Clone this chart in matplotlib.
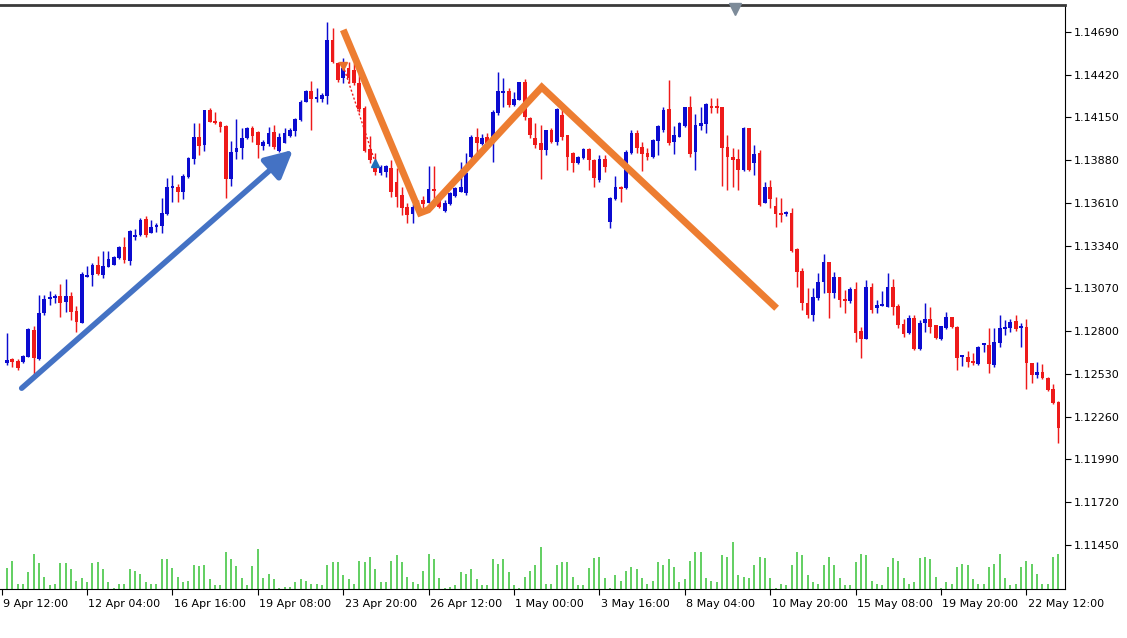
import numpy as np
import matplotlib
matplotlib.use("Agg")
import matplotlib.pyplot as plt
from matplotlib.ticker import FormatStrFormatter
from matplotlib.transforms import ScaledTranslation

# H4 bars, EURUSD-style prices
opens = [
    1.12601, 1.12623, 1.12614, 1.12608, 1.12639, 1.12808, 1.12623, 1.12917, 1.13004, 1.13008,
    1.13023, 1.12985, 1.13023, 1.12928, 1.12854, 1.13144, 1.13155, 1.13218, 1.13155, 1.13208,
    1.13218, 1.13261, 1.13334, 1.13245, 1.13393, 1.13408, 1.13507, 1.13422, 1.13460, 1.13465,
    1.13540, 1.13703, 1.13713, 1.13677, 1.13772, 1.13888, 1.14029, 1.13976, 1.14197, 1.14128,
    1.14123, 1.14098, 1.13761, 1.13930, 1.13955, 1.14019, 1.14082, 1.14056, 1.13972, 1.13981,
    1.14056, 1.13938, 1.13991, 1.14035, 1.14065, 1.14134, 1.14246, 1.14317, 1.14267, 1.14267,
    1.14288, 1.14639, 1.14492, 1.14401, 1.14461, 1.14450, 1.14370, 1.14210, 1.13949, 1.13835,
    1.13797, 1.13808, 1.13829, 1.13744, 1.13660, 1.13587, 1.13540, 1.13591, 1.13629, 1.13612,
    1.13696, 1.13629, 1.13561, 1.13604, 1.13654, 1.13681, 1.13675, 1.13902, 1.14025, 1.13983,
    1.14025, 1.13987, 1.14176, 1.14307, 1.14319, 1.14229, 1.14261, 1.14376, 1.14145, 1.14019,
    1.13987, 1.13945, 1.14071, 1.13997, 1.14166, 1.14039, 1.13924, 1.13861, 1.13892, 1.13949,
    1.13881, 1.13755, 1.13886, 1.13492, 1.13633, 1.13713, 1.13703, 1.13924, 1.14054, 1.13965,
    1.13928, 1.13899, 1.14003, 1.14071, 1.14202, 1.13997, 1.14029, 1.14096, 1.14214, 1.13934,
    1.14096, 1.14109, 1.14223, 1.14218, 1.14214, 1.13965, 1.13902, 1.13886, 1.13818, 1.14082,
    1.13861, 1.13924, 1.13608, 1.13709, 1.13591, 1.13545, 1.13540, 1.13545, 1.13317, 1.13182,
    1.12980, 1.12903, 1.13008, 1.13113, 1.13239, 1.13040, 1.13144, 1.13002, 1.12993, 1.13065,
    1.12803, 1.12749, 1.13081, 1.12945, 1.12959, 1.12955, 1.13081, 1.12959, 1.12846, 1.12787,
    1.12882, 1.12686, 1.12854, 1.12875, 1.12839, 1.12749, 1.12819, 1.12888, 1.12829, 1.12635,
    1.12635, 1.12614, 1.12593, 1.12713, 1.12713, 1.12587, 1.12724, 1.12816, 1.12819, 1.12867,
    1.12819, 1.12829, 1.12601, 1.12524, 1.12544, 1.12503, 1.12433, 1.12355,
]
highs = [
    1.12787, 1.12629, 1.12623, 1.12650, 1.12819, 1.12835, 1.13029, 1.13029, 1.13055, 1.13033,
    1.13096, 1.13130, 1.13050, 1.12959, 1.13176, 1.13212, 1.13233, 1.13275, 1.13309, 1.13309,
    1.13275, 1.13338, 1.13393, 1.13439, 1.13444, 1.13513, 1.13528, 1.13503, 1.13482, 1.13640,
    1.13768, 1.13787, 1.13728, 1.13791, 1.13902, 1.14113, 1.14113, 1.14197, 1.14212, 1.14187,
    1.14128, 1.14103, 1.14001, 1.14140, 1.14082, 1.14092, 1.14096, 1.14065, 1.14008, 1.14092,
    1.14103, 1.14050, 1.14082, 1.14082, 1.14145, 1.14260, 1.14324, 1.14380, 1.14338, 1.14303,
    1.14755, 1.14713, 1.14502, 1.14524, 1.14502, 1.14492, 1.14471, 1.14223, 1.14033, 1.13926,
    1.13850, 1.13850, 1.13881, 1.13829, 1.13713, 1.13608, 1.13604, 1.13629, 1.13654, 1.13844,
    1.13844, 1.13660, 1.13629, 1.13681, 1.13713, 1.13871, 1.13924, 1.14039, 1.14082, 1.14046,
    1.14050, 1.14197, 1.14439, 1.14398, 1.14334, 1.14313, 1.14376, 1.14391, 1.14155, 1.14113,
    1.14103, 1.14071, 1.14084, 1.14208, 1.14210, 1.14039, 1.13934, 1.13909, 1.13955, 1.13959,
    1.13886, 1.13913, 1.13913, 1.13650, 1.13780, 1.13717, 1.13945, 1.14071, 1.14071, 1.13997,
    1.13955, 1.14012, 1.14103, 1.14218, 1.14387, 1.14096, 1.14123, 1.14218, 1.14286, 1.14172,
    1.14218, 1.14240, 1.14271, 1.14271, 1.14214, 1.14039, 1.13955, 1.13949, 1.14088, 1.14082,
    1.13976, 1.13945, 1.13745, 1.13755, 1.13650, 1.13640, 1.13559, 1.13576, 1.13326, 1.13199,
    1.13071, 1.13071, 1.13166, 1.13288, 1.13239, 1.13176, 1.13144, 1.13060, 1.13081, 1.13113,
    1.12829, 1.13124, 1.13107, 1.12997, 1.13056, 1.13166, 1.13128, 1.12972, 1.12875, 1.12903,
    1.12903, 1.12871, 1.12980, 1.12955, 1.12839, 1.12833, 1.12923, 1.12888, 1.12833, 1.12650,
    1.12677, 1.12661, 1.12707, 1.12728, 1.12819, 1.12819, 1.12903, 1.12871, 1.12875, 1.12903,
    1.12854, 1.12875, 1.12601, 1.12608, 1.12593, 1.12509, 1.12467, 1.12361,
]
lows = [
    1.12587, 1.12576, 1.12555, 1.12601, 1.12635, 1.12513, 1.12618, 1.12903, 1.12966, 1.12980,
    1.12892, 1.12923, 1.12871, 1.12797, 1.12850, 1.13141, 1.13086, 1.13155, 1.13134, 1.13204,
    1.13218, 1.13254, 1.13233, 1.13218, 1.13376, 1.13401, 1.13397, 1.13419, 1.13425, 1.13422,
    1.13534, 1.13618, 1.13614, 1.13635, 1.13770, 1.13854, 1.13913, 1.13938, 1.14120, 1.14109,
    1.14060, 1.13643, 1.13719, 1.13888, 1.13888, 1.14014, 1.13993, 1.13892, 1.13945, 1.13972,
    1.13951, 1.13930, 1.13987, 1.14029, 1.14035, 1.14128, 1.14246, 1.14071, 1.14246, 1.14246,
    1.14233, 1.14492, 1.14376, 1.14366, 1.14366, 1.14355, 1.14185, 1.13932, 1.13861, 1.13787,
    1.13787, 1.13776, 1.13650, 1.13587, 1.13534, 1.13482, 1.13485, 1.13540, 1.13576, 1.13608,
    1.13629, 1.13576, 1.13555, 1.13597, 1.13650, 1.13681, 1.13660, 1.13892, 1.13902, 1.13976,
    1.13987, 1.13871, 1.14166, 1.14216, 1.14218, 1.14223, 1.14261, 1.14134, 1.14019, 1.13955,
    1.13761, 1.13913, 1.13989, 1.13976, 1.14008, 1.13818, 1.13808, 1.13856, 1.13886, 1.13818,
    1.13713, 1.13744, 1.13808, 1.13450, 1.13629, 1.13618, 1.13696, 1.13919, 1.13924, 1.13814,
    1.13881, 1.13892, 1.13913, 1.14060, 1.13976, 1.13919, 1.14025, 1.14092, 1.13902, 1.13818,
    1.14071, 1.14054, 1.14180, 1.14180, 1.13717, 1.13692, 1.13713, 1.13692, 1.13814, 1.13814,
    1.13787, 1.13591, 1.13608, 1.13576, 1.13460, 1.13492, 1.13528, 1.13300, 1.13081, 1.12934,
    1.12882, 1.12867, 1.12997, 1.13040, 1.12882, 1.13008, 1.12955, 1.12913, 1.12976, 1.12734,
    1.12629, 1.12749, 1.12913, 1.12913, 1.12959, 1.12955, 1.12903, 1.12819, 1.12762, 1.12783,
    1.12681, 1.12681, 1.12797, 1.12787, 1.12749, 1.12745, 1.12812, 1.12819, 1.12555, 1.12580,
    1.12576, 1.12587, 1.12587, 1.12671, 1.12534, 1.12576, 1.12698, 1.12776, 1.12797, 1.12803,
    1.12702, 1.12433, 1.12475, 1.12503, 1.12496, 1.12424, 1.12340, 1.12096,
]
closes = [
    1.12618, 1.12608, 1.12570, 1.12644, 1.12812, 1.12629, 1.12917, 1.13004, 1.13014, 1.13018,
    1.12980, 1.13023, 1.12923, 1.12860, 1.13160, 1.13155, 1.13218, 1.13160, 1.13212, 1.13256,
    1.13267, 1.13334, 1.13250, 1.13435, 1.13408, 1.13503, 1.13408, 1.13460, 1.13471, 1.13545,
    1.13709, 1.13719, 1.13677, 1.13782, 1.13896, 1.14029, 1.13972, 1.14197, 1.14123, 1.14113,
    1.14092, 1.13761, 1.13934, 1.13959, 1.14019, 1.14085, 1.14035, 1.13976, 1.13993, 1.14050,
    1.13965, 1.14029, 1.14050, 1.14071, 1.14140, 1.14250, 1.14317, 1.14267, 1.14281, 1.14292,
    1.14639, 1.14502, 1.14387, 1.14461, 1.14398, 1.14366, 1.14204, 1.13940, 1.13881, 1.13808,
    1.13835, 1.13844, 1.13681, 1.13650, 1.13576, 1.13534, 1.13587, 1.13578, 1.13604, 1.13696,
    1.13688, 1.13587, 1.13608, 1.13671, 1.13707, 1.13713, 1.13797, 1.14029, 1.13987, 1.14019,
    1.13991, 1.14187, 1.14319, 1.14319, 1.14229, 1.14265, 1.14376, 1.14150, 1.14039, 1.13976,
    1.13945, 1.14071, 1.13997, 1.14202, 1.14029, 1.13902, 1.13861, 1.13902, 1.13949, 1.13881,
    1.13766, 1.13886, 1.13839, 1.13640, 1.13713, 1.13696, 1.13934, 1.14054, 1.13955, 1.13919,
    1.13899, 1.14008, 1.14096, 1.14197, 1.13991, 1.14039, 1.14117, 1.14214, 1.13919, 1.14103,
    1.14117, 1.14235, 1.14208, 1.14208, 1.13955, 1.13899, 1.13881, 1.13818, 1.14082, 1.13818,
    1.13919, 1.13597, 1.13713, 1.13633, 1.13540, 1.13534, 1.13549, 1.13309, 1.13176, 1.12976,
    1.12903, 1.13014, 1.13113, 1.13239, 1.13040, 1.13144, 1.12997, 1.12993, 1.13065, 1.12787,
    1.12749, 1.13081, 1.12934, 1.12964, 1.12972, 1.13081, 1.12955, 1.12839, 1.12783, 1.12882,
    1.12686, 1.12854, 1.12875, 1.12829, 1.12755, 1.12833, 1.12888, 1.12829, 1.12629, 1.12644,
    1.12608, 1.12597, 1.12702, 1.12719, 1.12593, 1.12734, 1.12819, 1.12825, 1.12860, 1.12812,
    1.12833, 1.12597, 1.12524, 1.12544, 1.12503, 1.12429, 1.12349, 1.12187,
]
volumes = [
    59, 79, 15, 15, 48, 99, 72, 35, 12, 15, 72, 72, 55, 23, 31, 19, 72, 76, 55, 19,
    3, 15, 15, 55, 51, 43, 19, 15, 15, 83, 83, 59, 35, 19, 23, 67, 64, 67, 27, 11,
    11, 103, 83, 64, 31, 11, 64, 111, 31, 43, 27, 4, 7, 7, 19, 27, 23, 15, 15, 11,
    67, 75, 75, 39, 27, 15, 79, 75, 91, 55, 19, 19, 79, 95, 75, 35, 19, 15, 51, 99,
    83, 31, 3, 7, 11, 47, 43, 55, 27, 11, 11, 83, 71, 83, 47, 11, 3, 35, 51, 67,
    119, 15, 15, 67, 75, 75, 35, 11, 11, 59, 87, 91, 31, 3, 39, 23, 51, 63, 55, 31,
    15, 23, 75, 67, 83, 63, 19, 27, 79, 103, 103, 31, 23, 19, 95, 91, 131, 39, 35, 31,
    67, 91, 87, 31, 3, 15, 11, 67, 103, 95, 39, 19, 15, 67, 91, 67, 31, 11, 11, 75,
    99, 95, 23, 15, 11, 63, 87, 79, 31, 15, 19, 87, 91, 83, 35, 3, 19, 15, 63, 71,
    67, 27, 15, 15, 63, 71, 99, 31, 11, 15, 63, 79, 71, 43, 15, 15, 91, 99,
]

# time axis labels, one every 16 bars
time_labels = ["9 Apr 12:00", "12 Apr 04:00", "16 Apr 16:00", "19 Apr 08:00",
               "23 Apr 20:00", "26 Apr 12:00", "1 May 00:00", "3 May 16:00",
               "8 May 04:00", "10 May 20:00", "15 May 08:00", "19 May 20:00",
               "22 May 12:00"]
time_label_bars = [-1, 15, 31, 47, 63, 79, 95, 111, 127, 143, 159, 175, 191]
price_ticks = [1.11450, 1.11720, 1.11990, 1.12260, 1.12530, 1.12800, 1.13070,
               1.13340, 1.13610, 1.13880, 1.14150, 1.14420, 1.14690]

# hand drawn annotations (bar index, price)
trend_arrow_bars = [2.75, 53.6]
trend_arrow_prices = [1.12440, 1.13945]
zigzag_bars = [63.0, 77.4, 78.9, 100.2, 144.2]
zigzag_prices = [1.14703, 1.13547, 1.13566, 1.14341, 1.12945]
trade_bars = [63, 69]
trade_prices = [1.14475, 1.13865]
shift_marker_bar = 136.4

UP = "#0b0bd0"
DOWN = "#ee1a1a"
VOL = "#55cc55"

o = np.array(opens)
h = np.array(highs)
l = np.array(lows)
c = np.array(closes)
v = np.array(volumes)
x = np.arange(len(c))
cols = np.where(c >= o, UP, DOWN)

fig = plt.figure(figsize=(11.27, 6.38), dpi=100)
ax = fig.add_axes([0.0, 0.0768, 0.945, 0.9154])

# volume histogram in the bottom band of the price panel
vol_top = 1640
ax.vlines(x, 0, v / vol_top, transform=ax.get_xaxis_transform(),
          colors=VOL, lw=1.3, zorder=1)

# candles
ax.vlines(x, l, h, colors=cols, lw=1.05, zorder=2)
body_lo = np.minimum(o, c)
body_h = np.maximum(np.abs(c - o), 0.00012)
ax.bar(x, body_h, bottom=body_lo, width=0.7, color=cols, linewidth=0, zorder=3)

# trade history marks
ax.plot(trade_bars, trade_prices, ls=(0, (1.5, 1.5)), color=DOWN, lw=1, zorder=4)
ax.plot(trade_bars[0], trade_prices[0], marker="v", ms=6, color="#e8702a", zorder=5)
ax.plot(trade_bars[1], trade_prices[1], marker="^", ms=6, color="#1f6fb8", zorder=5)

# drawn pattern lines
ax.plot(zigzag_bars, zigzag_prices, color="#ed7d31", lw=5,
        solid_joinstyle="miter", solid_capstyle="butt", zorder=6)
ax.annotate("", xy=(trend_arrow_bars[1], trend_arrow_prices[1]),
            xytext=(trend_arrow_bars[0], trend_arrow_prices[0]),
            arrowprops=dict(arrowstyle="-|>,head_length=0.75,head_width=0.38",
                            color="#4472c4", lw=4, shrinkA=0, shrinkB=0,
                            mutation_scale=22),
            zorder=6)

ax.plot(shift_marker_bar, 0.993, marker="v", ms=9, color="#7d8b99",
        transform=ax.get_xaxis_transform(), clip_on=False, zorder=7)

ax.set_xlim(-1.31, 198.24)
ax.set_ylim(1.11172, 1.14860)

ax.yaxis.tick_right()
ax.set_yticks(price_ticks)
ax.yaxis.set_major_formatter(FormatStrFormatter("%.5f"))
ax.tick_params(axis="y", direction="out", length=4, width=0.8, pad=2, labelsize=8)

ax.set_xticks(time_label_bars)
ax.set_xticklabels(time_labels, ha="left")
ax.tick_params(axis="x", direction="out", length=4, width=0.8, pad=3, labelsize=8)
shift = ScaledTranslation(1 / 72, 0, fig.dpi_scale_trans)
for lab in ax.get_xticklabels():
    lab.set_transform(lab.get_transform() + shift)

ax.spines["left"].set_visible(False)
ax.spines["top"].set_color("#3a3a3a")
ax.spines["top"].set_linewidth(2)
ax.spines["right"].set_linewidth(0.8)
ax.spines["bottom"].set_linewidth(0.8)

fig.savefig("out.png", dpi=100)
